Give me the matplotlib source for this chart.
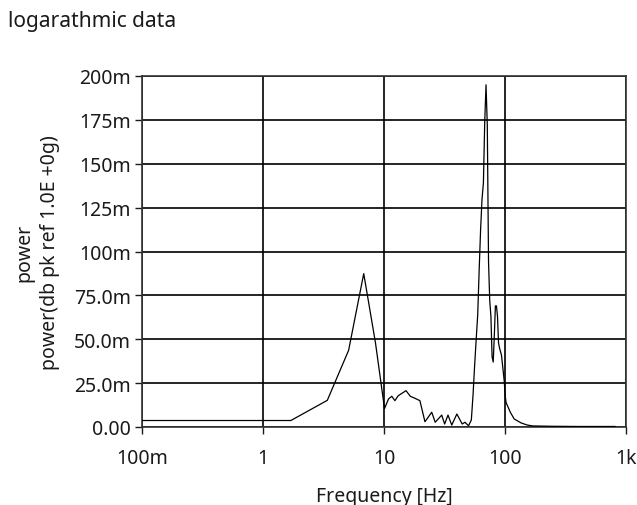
import matplotlib
matplotlib.use("Agg")
import matplotlib.pyplot as plt
from matplotlib.ticker import FixedLocator, FixedFormatter

plt.rcParams['font.family'] = ['Noto Sans', 'DejaVu Sans']

# Frequency [Hz] and power values
freq = [0.1, 1.7, 3.4, 5.1, 6.8, 8.5, 10.1, 10.9, 11.6, 12.3, 13.1, 15.2, 16.5,
        18.1, 19.8, 21.8, 24.8, 26.5, 30.0, 31.7, 33.8, 36.3, 40.0, 44.3, 46.6,
        50.0, 52.7, 54.4, 56.1, 57.8, 59.5, 61.2, 62.9, 64.6, 66.3, 68.0, 69.7,
        71.4, 73.1, 74.8, 76.5, 78.2, 79.9, 81.6, 83.3, 85.0, 86.7, 88.4, 90.1,
        93.5, 96.9, 98.6, 100.3, 102.0, 110.5, 119.0, 136.0, 153.0, 170.0,
        250.0, 400.0, 600.0, 811.0]
power = [0.0037, 0.0037, 0.0152, 0.0437, 0.0874, 0.048, 0.0105, 0.016, 0.0175,
         0.015, 0.0178, 0.0207, 0.0175, 0.0163, 0.015, 0.003, 0.0084, 0.0027,
         0.0068, 0.0017, 0.0068, 0.0011, 0.0074, 0.0017, 0.0027, 0.0007, 0.004,
         0.018, 0.035, 0.050, 0.064, 0.090, 0.113, 0.130, 0.139, 0.174, 0.195,
         0.172, 0.094, 0.072, 0.063, 0.040, 0.037, 0.052, 0.069, 0.069, 0.063,
         0.048, 0.045, 0.041, 0.031, 0.026, 0.018, 0.014, 0.0085, 0.0046,
         0.0023, 0.0011, 0.0006, 0.0004, 0.0003, 0.0003, 0.0003]

x_ticks = [0.1, 1, 10, 100, 1000]
x_labels = ["100m", "1", "10", "100", "1k"]
y_ticks = [0.0, 0.025, 0.05, 0.075, 0.1, 0.125, 0.15, 0.175, 0.2]
y_labels = ["0.00", "25.0m", "50.0m", "75.0m", "100m", "125m", "150m", "175m", "200m"]

W, H = 637, 506
fig = plt.figure(figsize=(W / 100, H / 100), dpi=100)
ax = fig.add_axes([142 / W, 1 - 428 / H, (626 - 142) / W, (428 - 77) / H])

ax.plot(freq, power, color='black', linewidth=0.9, zorder=3)
ax.set_xscale('log')
ax.set_xlim(0.1, 1000)
ax.set_ylim(0, 0.2)

ax.xaxis.set_major_locator(FixedLocator(x_ticks))
ax.xaxis.set_major_formatter(FixedFormatter(x_labels))
ax.xaxis.set_minor_locator(FixedLocator([]))
ax.yaxis.set_major_locator(FixedLocator(y_ticks))
ax.yaxis.set_major_formatter(FixedFormatter(y_labels))

ax.grid(True, which='major', color='black', linewidth=1.2, zorder=1)
for s in ax.spines.values():
    s.set_color('#333333')
    s.set_linewidth(1.2)

txt = '#1a1a1a'
ax.tick_params(axis='both', which='major', labelsize=14, colors=txt,
               length=5, width=1.0, direction='out')
ax.tick_params(axis='x', pad=10)
ax.tick_params(axis='y', pad=3)

ax.set_xlabel("Frequency [Hz]", fontsize=14, color=txt, labelpad=13)
ax.set_ylabel("power\npower(db pk ref 1.0E +0g)", fontsize=14, color=txt,
              labelpad=10, linespacing=1.4)

fig.text(8 / W, 1 - 22 / H, "logarathmic data", fontsize=15, color=txt,
         ha='left', va='center')

fig.savefig("out.png", dpi=100)
